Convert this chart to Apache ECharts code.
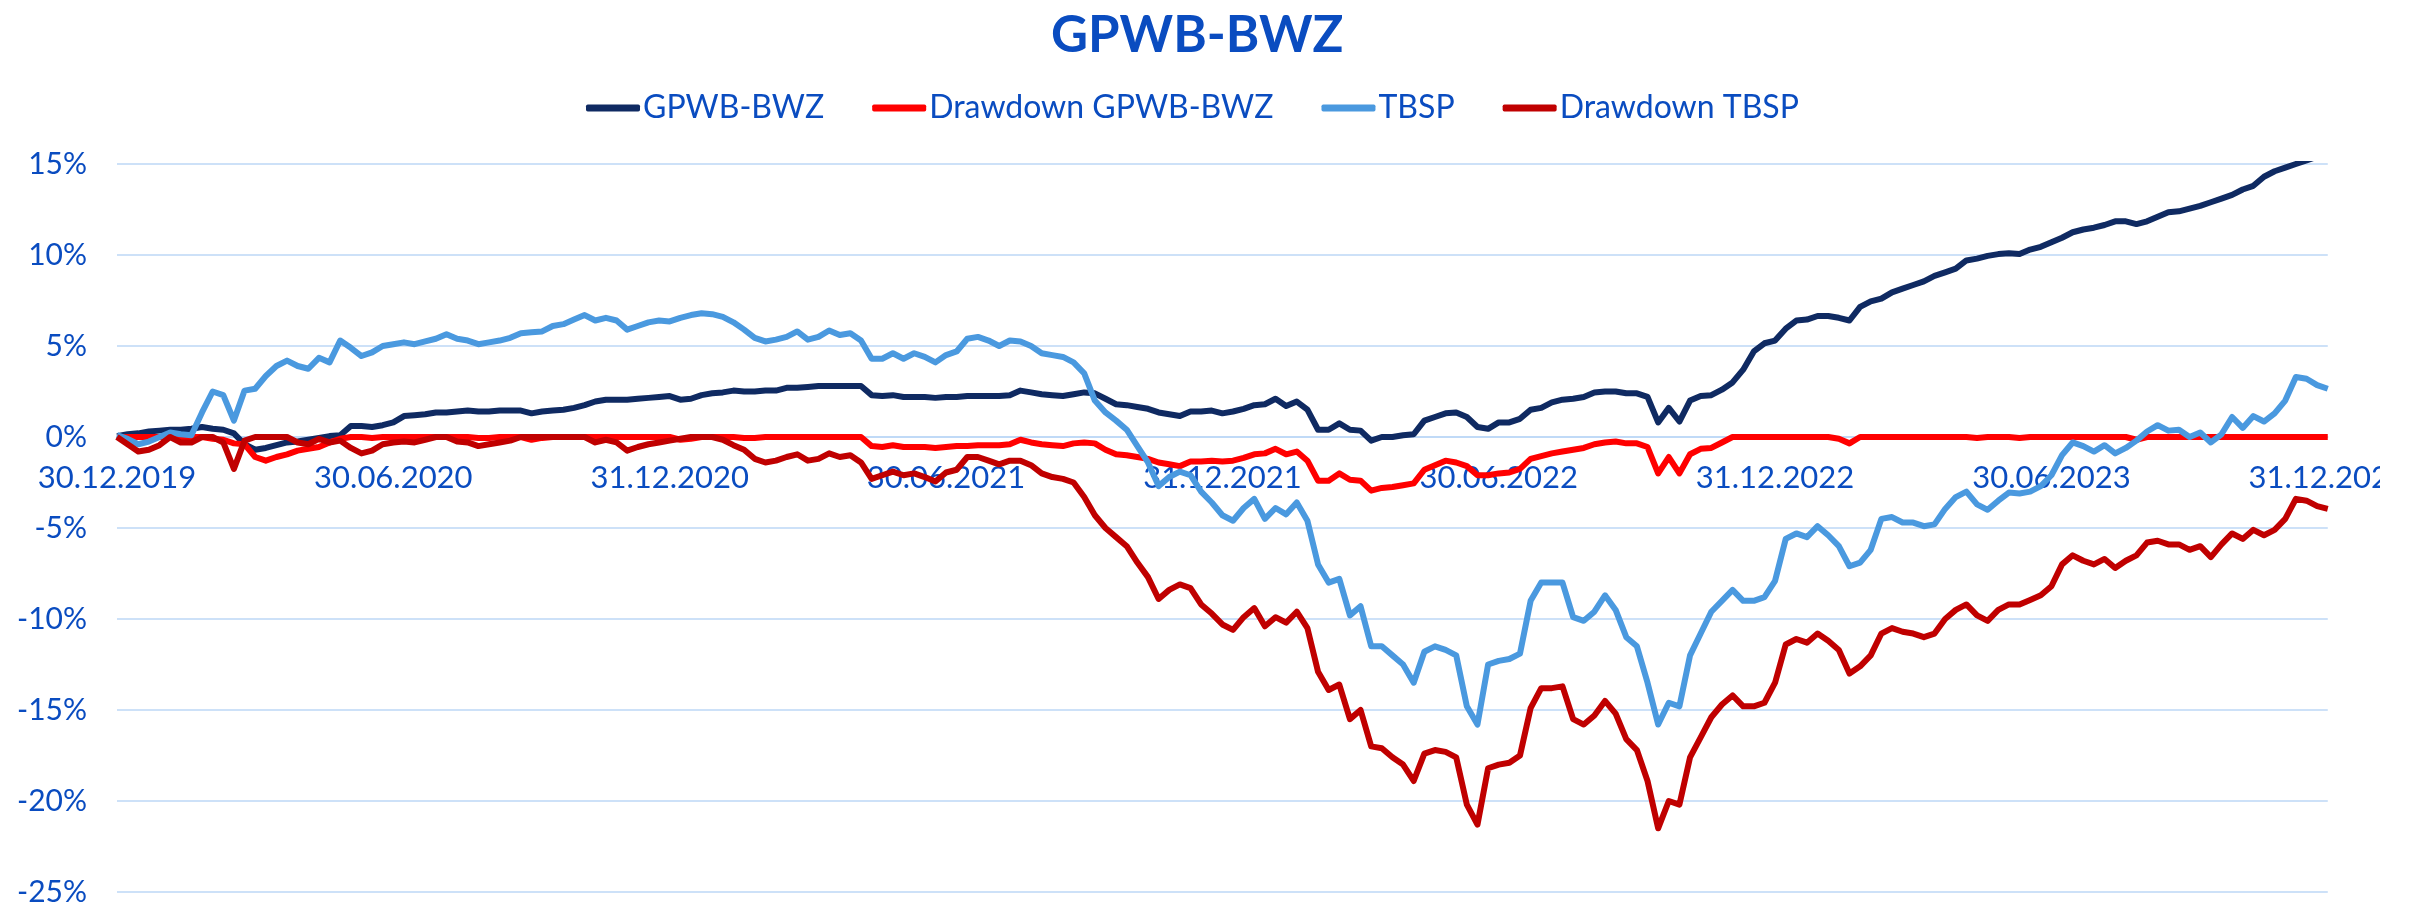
<!DOCTYPE html>
<html>
<head>
<meta charset="utf-8">
<title>GPWB-BWZ</title>
<script src="https://cdn.jsdelivr.net/npm/echarts@6/dist/echarts.min.js"></script>
<style>
  html, body { margin: 0; padding: 0; background: #fff; }
  #chart { width: 2410px; height: 908px; }
</style>
</head>
<body>
<div id="chart"></div>
<script>
// etykiety osi X co pół roku (26 tygodni)
const tickLabels = ['30.12.2019', '30.06.2020', '31.12.2020', '30.06.2021', '31.12.2021',
  '30.06.2022', '31.12.2022', '30.06.2023', '31.12.2023']
const weeksPerTick = 26
const yTicks = [-25, -20, -15, -10, -5, 0, 5, 10, 15]

// wartości tygodniowe w %
const gpwb = [
  0.05, 0.15, 0.2, 0.3, 0.35, 0.4, 0.4, 0.45, 0.55, 0.45, 0.4, 0.2, -0.4, -0.7, -0.6, -0.45, -0.3, -0.25, -0.15, -0.05,
  0.05, 0.1, 0.6, 0.6, 0.55, 0.65, 0.8, 1.15, 1.2, 1.25, 1.35, 1.35, 1.4, 1.45, 1.4, 1.4, 1.45, 1.45, 1.45, 1.3,
  1.4, 1.45, 1.5, 1.6, 1.75, 1.95, 2.05, 2.05, 2.05, 2.1, 2.15, 2.2,
  2.25, 2.05, 2.1, 2.3, 2.4, 2.45, 2.55, 2.5, 2.5, 2.55, 2.55, 2.7, 2.7, 2.75, 2.8, 2.8, 2.8, 2.8, 2.8, 2.3,
  2.25, 2.3, 2.2, 2.2, 2.2, 2.15, 2.2, 2.2, 2.25, 2.25, 2.25, 2.25, 2.3, 2.55, 2.45, 2.35, 2.3, 2.25, 2.35, 2.45,
  2.4, 2.1, 1.8, 1.75, 1.65, 1.55, 1.35, 1.25, 1.15, 1.4, 1.4, 1.45,
  1.3, 1.4, 1.55, 1.75, 1.8, 2.1, 1.7, 1.95, 1.5, 0.4, 0.4, 0.75, 0.4, 0.35, -0.2, 0.0, 0.0, 0.1, 0.15, 0.9,
  1.1, 1.3, 1.35, 1.1, 0.55, 0.45, 0.8, 0.8, 1.0, 1.5, 1.6, 1.9, 2.05, 2.1, 2.2, 2.45, 2.5, 2.5, 2.4, 2.4,
  2.2, 0.8, 1.6, 0.85, 2.0, 2.25, 2.3, 2.6, 3.0, 3.7, 4.7, 5.15,
  5.3, 5.95, 6.4, 6.45, 6.65, 6.65, 6.55, 6.4, 7.15, 7.45, 7.6, 7.95, 8.15, 8.35, 8.55, 8.85, 9.05, 9.25, 9.7, 9.8,
  9.95, 10.05, 10.1, 10.05, 10.3, 10.45, 10.7, 10.95, 11.25, 11.4, 11.5, 11.65, 11.85, 11.85, 11.7, 11.85, 12.1, 12.35, 12.4, 12.55,
  12.7, 12.9, 13.1, 13.3, 13.6, 13.8, 14.3, 14.6, 14.8, 15.0, 15.2, 15.4, 15.5
]

const ddGpwb = [
  0, 0, 0, 0, 0, 0, 0, 0, 0, -0.1, -0.15, -0.35, -0.4, -1.1, -1.3, -1.1, -0.95, -0.75, -0.65, -0.55,
  -0.3, -0.1, 0, 0, -0.05, 0, 0, 0, 0, 0, 0, 0, 0, 0, -0.05, -0.05, 0, 0, 0, -0.15,
  -0.05, 0, 0, 0, 0, 0, 0, 0, 0, 0, 0, 0,
  0, -0.15, -0.1, 0, 0, 0, 0, -0.05, -0.05, 0, 0, 0, 0, 0, 0, 0, 0, 0, 0, -0.5,
  -0.55, -0.45, -0.55, -0.55, -0.55, -0.6, -0.55, -0.5, -0.5, -0.45, -0.45, -0.45, -0.4, -0.15, -0.3, -0.4, -0.45, -0.5, -0.35, -0.3,
  -0.35, -0.7, -0.95, -1.0, -1.1, -1.2, -1.4, -1.5, -1.6, -1.35, -1.35, -1.3,
  -1.35, -1.3, -1.15, -0.95, -0.9, -0.65, -0.95, -0.8, -1.3, -2.4, -2.4, -2.0, -2.35, -2.4, -2.95, -2.8, -2.75, -2.65, -2.55, -1.8,
  -1.55, -1.3, -1.4, -1.6, -2.1, -2.1, -2.0, -1.95, -1.75, -1.2, -1.05, -0.9, -0.8, -0.7, -0.6, -0.4, -0.3, -0.25, -0.35, -0.35,
  -0.55, -2.0, -1.1, -2.0, -0.95, -0.65, -0.6, -0.3, 0, 0, 0, 0,
  0, 0, 0, 0, 0, 0, -0.1, -0.35, 0, 0, 0, 0, 0, 0, 0, 0, 0, 0, 0, -0.05,
  0, 0, 0, -0.05, 0, 0, 0, 0, 0, 0, 0, 0, 0, 0, -0.15, 0, 0, 0, 0, 0,
  0, 0, 0, 0, 0, 0, 0, 0, 0, 0, 0, 0, 0
]

const tbsp = [
  0.1, -0.1, -0.4, -0.25, 0.0, 0.25, 0.15, 0.1, 1.35, 2.5, 2.3, 0.9, 2.55, 2.65, 3.35, 3.9, 4.2, 3.9, 3.75, 4.35,
  4.1, 5.3, 4.9, 4.45, 4.65, 5.0, 5.1, 5.2, 5.1, 5.25, 5.4, 5.65, 5.4, 5.3, 5.1, 5.2, 5.3, 5.45, 5.7, 5.75,
  5.8, 6.1, 6.2, 6.45, 6.7, 6.4, 6.55, 6.4, 5.9, 6.1, 6.3, 6.4,
  6.35, 6.55, 6.7, 6.8, 6.75, 6.6, 6.3, 5.9, 5.45, 5.25, 5.35, 5.5, 5.8, 5.35, 5.5, 5.85, 5.6, 5.7, 5.3, 4.3,
  4.3, 4.6, 4.3, 4.6, 4.4, 4.1, 4.5, 4.7, 5.4, 5.5, 5.3, 5.0, 5.3, 5.25, 5.0, 4.6, 4.5, 4.4, 4.1, 3.5,
  2.0, 1.35, 0.9, 0.4, -0.5, -1.4, -2.7, -2.2, -1.9, -2.1, -3.0, -3.6,
  -4.3, -4.6, -3.9, -3.4, -4.5, -3.9, -4.25, -3.6, -4.6, -7.0, -8.0, -7.8, -9.8, -9.3, -11.5, -11.5, -12.0, -12.5, -13.5, -11.8,
  -11.5, -11.7, -12.0, -14.8, -15.8, -12.5, -12.3, -12.2, -11.9, -9.0, -8.0, -8.0, -8.0, -9.9, -10.1, -9.6, -8.7, -9.5, -11.0, -11.5,
  -13.5, -15.8, -14.6, -14.8, -12.0, -10.8, -9.6, -9.0, -8.4, -9.0, -9.0, -8.8,
  -7.9, -5.6, -5.3, -5.5, -4.9, -5.4, -6.0, -7.1, -6.9, -6.2, -4.5, -4.4, -4.7, -4.7, -4.9, -4.8, -3.95, -3.3, -3.0, -3.7,
  -4.0, -3.5, -3.05, -3.1, -3.0, -2.7, -2.1, -1.0, -0.3, -0.5, -0.8, -0.45, -0.9, -0.6, -0.2, 0.3, 0.65, 0.35, 0.4, 0.0,
  0.25, -0.3, 0.15, 1.1, 0.5, 1.15, 0.85, 1.3, 2.0, 3.3, 3.2, 2.85, 2.65
]

const ddTbsp = [
  0, -0.4, -0.8, -0.7, -0.45, 0, -0.3, -0.3, 0, 0, -0.3, -1.75, -0.2, 0, 0, 0, 0, -0.3, -0.4, -0.1,
  -0.3, -0.2, -0.6, -0.9, -0.75, -0.4, -0.3, -0.25, -0.3, -0.15, 0, 0, -0.25, -0.3, -0.5, -0.4, -0.3, -0.2, 0, 0,
  0, 0, 0, 0, 0, -0.3, -0.15, -0.3, -0.75, -0.55, -0.4, -0.3,
  -0.2, -0.1, 0, 0, 0, -0.15, -0.45, -0.7, -1.2, -1.4, -1.3, -1.1, -0.95, -1.3, -1.2, -0.9, -1.1, -1.0, -1.4, -2.3,
  -2.1, -1.9, -2.1, -2.0, -2.2, -2.45, -1.95, -1.8, -1.1, -1.1, -1.3, -1.5, -1.3, -1.3, -1.55, -2.0, -2.2, -2.3, -2.5, -3.3,
  -4.3, -5.0, -5.5, -6.0, -6.9, -7.7, -8.9, -8.4, -8.1, -8.3, -9.2, -9.7,
  -10.3, -10.6, -9.9, -9.4, -10.4, -9.9, -10.2, -9.6, -10.5, -12.9, -13.9, -13.6, -15.5, -15.0, -17.0, -17.1, -17.6, -18.0, -18.9, -17.4,
  -17.2, -17.3, -17.6, -20.2, -21.3, -18.2, -18.0, -17.9, -17.5, -14.9, -13.8, -13.8, -13.7, -15.5, -15.8, -15.3, -14.5, -15.2, -16.6, -17.2,
  -18.9, -21.5, -20.0, -20.2, -17.6, -16.5, -15.4, -14.7, -14.2, -14.8, -14.8, -14.6,
  -13.5, -11.4, -11.1, -11.3, -10.8, -11.2, -11.7, -13.0, -12.6, -12.0, -10.8, -10.5, -10.7, -10.8, -11.0, -10.8, -10.0, -9.5, -9.2, -9.8,
  -10.1, -9.5, -9.2, -9.2, -8.95, -8.7, -8.2, -7.0, -6.5, -6.8, -7.0, -6.7, -7.2, -6.8, -6.5, -5.8, -5.7, -5.9, -5.9, -6.2,
  -6.0, -6.6, -5.9, -5.3, -5.6, -5.1, -5.4, -5.1, -4.5, -3.4, -3.5, -3.8, -3.95
]

const categories = gpwb.map((v, i) => i)

const blue = '#0a4cc0'
const gridColor = '#bcd7f6'
const font = 'Lato'

// oś X leży na linii 0% (wysokość siatki 728 px, zakres -25..15)
const gridTop = 164
const gridBottom = 16
const gridHeight = 908 - gridTop - gridBottom
const zeroOffset = -gridHeight * (0 - yTicks[0]) / (yTicks[yTicks.length - 1] - yTicks[0])

let myChart = echarts.init(document.getElementById('chart'))

let option = {
  animation: false,
  title: {
    text: 'GPWB-BWZ',
    left: 1046,
    top: 5,
    textStyle: { color: blue, fontFamily: font, fontWeight: 'bold', fontSize: 51 }
  },
  legend: {
    top: 87,
    left: 581,
    itemWidth: 54,
    itemHeight: 7,
    itemGap: 48,
    icon: 'roundRect',
    textStyle: { color: blue, fontFamily: font, fontSize: 32, padding: [0, 0, 0, -2] }
  },
  grid: { left: 117, right: 58, top: gridTop, bottom: gridBottom },
  xAxis: {
    type: 'category',
    boundaryGap: false,
    data: categories,
    offset: zeroOffset,
    axisLine: { onZero: false, lineStyle: { color: gridColor, width: 1.5 } },
    axisTick: { show: false },
    axisLabel: {
      interval: (index) => index % weeksPerTick === 0,
      formatter: (value, index) => tickLabels[index / weeksPerTick] || '',
      color: blue,
      fontFamily: font,
      fontSize: 31,
      margin: 25
    },
    splitLine: { show: false }
  },
  yAxis: {
    type: 'value',
    min: yTicks[0],
    max: yTicks[yTicks.length - 1],
    interval: 5,
    axisLine: { show: false },
    axisTick: { show: false },
    axisLabel: {
      formatter: (v) => v + '%',
      color: blue,
      fontFamily: font,
      fontSize: 30,
      margin: 30
    },
    splitLine: { lineStyle: { color: gridColor, width: 1.5 } }
  },
  series: [
    { name: 'GPWB-BWZ', type: 'line', data: gpwb, color: '#0f2a62' },
    { name: 'Drawdown GPWB-BWZ', type: 'line', data: ddGpwb, color: '#ff0000' },
    { name: 'TBSP', type: 'line', data: tbsp, color: '#4a99df' },
    { name: 'Drawdown TBSP', type: 'line', data: ddTbsp, color: '#c00000' }
  ].map(s => Object.assign(s, {
    symbol: 'none',
    clip: true,
    lineStyle: { width: 6, color: s.color, join: 'round' },
    itemStyle: { color: s.color }
  })),
  graphic: [{
    // przycięcie ostatniej etykiety jak w oryginale
    type: 'rect',
    right: 0,
    top: 455,
    z: 100,
    shape: { width: 30, height: 50 },
    style: { fill: '#fff' }
  }]
}

myChart.setOption(option)
</script>
</body>
</html>
